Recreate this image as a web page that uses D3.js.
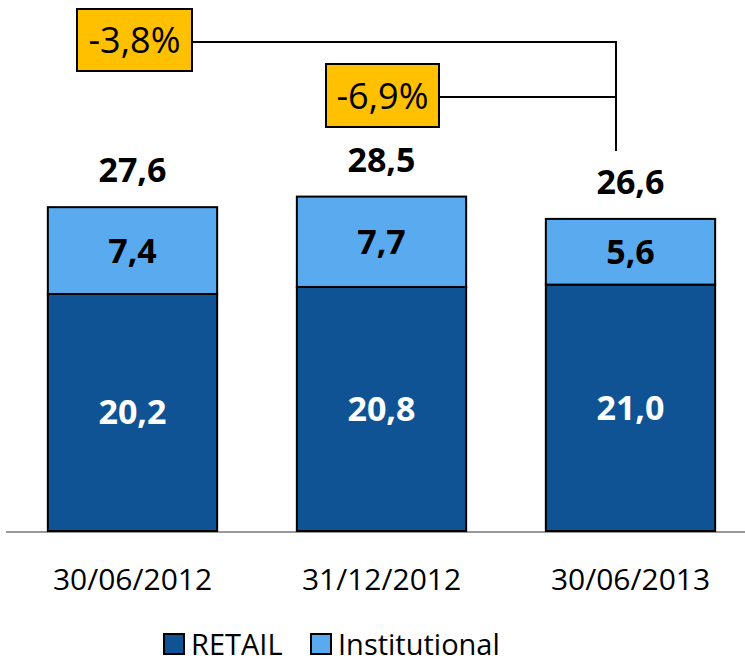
<!DOCTYPE html>
<html>
<head>
<meta charset="utf-8">
<script src="https://cdn.jsdelivr.net/npm/d3@7"></script>
<style>
  body { margin: 0; background: #fff; }
  svg { display: block; font-family: "Open Sans", sans-serif; }
</style>
</head>
<body>
<div id="chart"></div>
<script>
// data
var categories = ["30/06/2012", "31/12/2012", "30/06/2013"];
var retail = [20.2, 20.8, 21.0];
var institutional = [7.4, 7.7, 5.6];
var totals = [27.6, 28.5, 26.6];
var seriesNames = ["RETAIL", "Institutional"];
var changes = ["-3,8%", "-6,9%"];

var width = 745, height = 664;
var colors = ["#0F5394", "#5AAAF0"];

function fmt(v) { return v.toFixed(1).replace(".", ","); }

var svg = d3.select("#chart").append("svg")
  .attr("width", width).attr("height", height);

var x = d3.scaleBand().domain(categories).range([8, 755])
  .paddingInner(0.32).paddingOuter(0.16);
var y = d3.scaleLinear().domain([0, 30]).range([531, 179]);

var rows = categories.map(function(c, i) {
  return { cat: c, retail: retail[i], inst: institutional[i], total: totals[i] };
});

// axis baseline
svg.append("line")
  .attr("x1", 6).attr("x2", width)
  .attr("y1", y(0) + 1).attr("y2", y(0) + 1)
  .attr("stroke", "#999").attr("stroke-width", 2);

// retail bars
svg.selectAll("rect.retail").data(rows).enter().append("rect")
  .attr("class", "retail")
  .attr("x", function(d) { return x(d.cat); })
  .attr("y", function(d) { return y(d.retail); })
  .attr("width", x.bandwidth())
  .attr("height", function(d) { return y(0) - y(d.retail); })
  .attr("fill", colors[0]).attr("stroke", "#000").attr("stroke-width", 2);

// institutional bars
svg.selectAll("rect.inst").data(rows).enter().append("rect")
  .attr("class", "inst")
  .attr("x", function(d) { return x(d.cat); })
  .attr("y", function(d) { return y(d.retail + d.inst); })
  .attr("width", x.bandwidth())
  .attr("height", function(d) { return y(d.retail) - y(d.retail + d.inst); })
  .attr("fill", colors[1]).attr("stroke", "#000").attr("stroke-width", 2);

// labels inside bars
svg.selectAll("text.rlab").data(rows).enter().append("text")
  .attr("x", function(d) { return x(d.cat) + x.bandwidth() / 2; })
  .attr("y", function(d) { return (y(0) + y(d.retail)) / 2 + 12; })
  .attr("text-anchor", "middle").attr("font-weight", "bold")
  .attr("font-size", 34).attr("fill", "#fff")
  .text(function(d) { return fmt(d.retail); });

svg.selectAll("text.ilab").data(rows).enter().append("text")
  .attr("x", function(d) { return x(d.cat) + x.bandwidth() / 2; })
  .attr("y", function(d) { return (y(d.retail) + y(d.retail + d.inst)) / 2 + 12; })
  .attr("text-anchor", "middle").attr("font-weight", "bold")
  .attr("font-size", 34).attr("fill", "#000")
  .text(function(d) { return fmt(d.inst); });

// totals
svg.selectAll("text.tot").data(rows).enter().append("text")
  .attr("x", function(d) { return x(d.cat) + x.bandwidth() / 2; })
  .attr("y", function(d) { return y(d.total) - 25; })
  .attr("text-anchor", "middle").attr("font-weight", "bold")
  .attr("font-size", 34).attr("fill", "#000")
  .text(function(d) { return fmt(d.total); });

// category labels
svg.selectAll("text.cat").data(categories).enter().append("text")
  .attr("x", function(d) { return x(d) + x.bandwidth() / 2; })
  .attr("y", 590)
  .attr("text-anchor", "middle").attr("font-size", 30).attr("fill", "#000")
  .text(function(d) { return d; });

// change annotations
var boxes = [
  { label: changes[0], x: 77, y: 9, w: 115, h: 62 },
  { label: changes[1], x: 326, y: 64, w: 113, h: 63 }
];
var bx = 616;
boxes.forEach(function(b, i) {
  var cy = i === 0 ? 42 : 97;
  svg.append("line")
    .attr("x1", b.x + b.w).attr("x2", bx)
    .attr("y1", cy).attr("y2", cy)
    .attr("stroke", "#000").attr("stroke-width", 2);
});
svg.append("line")
  .attr("x1", bx).attr("x2", bx)
  .attr("y1", 41).attr("y2", 151)
  .attr("stroke", "#000").attr("stroke-width", 2);

var ann = svg.selectAll("g.ann").data(boxes).enter().append("g");
ann.append("rect")
  .attr("x", function(d) { return d.x; }).attr("y", function(d) { return d.y; })
  .attr("width", function(d) { return d.w; }).attr("height", function(d) { return d.h; })
  .attr("fill", "#FFC000").attr("stroke", "#000").attr("stroke-width", 2);
ann.append("text")
  .attr("x", function(d) { return d.x + d.w / 2; })
  .attr("y", function(d) { return d.y + d.h / 2 + 13; })
  .attr("text-anchor", "middle").attr("font-size", 37).attr("fill", "#000")
  .attr("textLength", 92).attr("lengthAdjust", "spacingAndGlyphs")
  .text(function(d) { return d.label; });

// legend
var legendItems = [
  { name: seriesNames[0], color: colors[0], x: 164 },
  { name: seriesNames[1], color: colors[1], x: 311 }
];
var lg = svg.selectAll("g.leg").data(legendItems).enter().append("g");
lg.append("rect")
  .attr("x", function(d) { return d.x; }).attr("y", 634)
  .attr("width", 20).attr("height", 20)
  .attr("fill", function(d) { return d.color; })
  .attr("stroke", "#000").attr("stroke-width", 2);
lg.append("text")
  .attr("x", function(d) { return d.x + 27; }).attr("y", 655)
  .attr("font-size", 29).attr("fill", "#000")
  .text(function(d) { return d.name; });
</script>
</body>
</html>
